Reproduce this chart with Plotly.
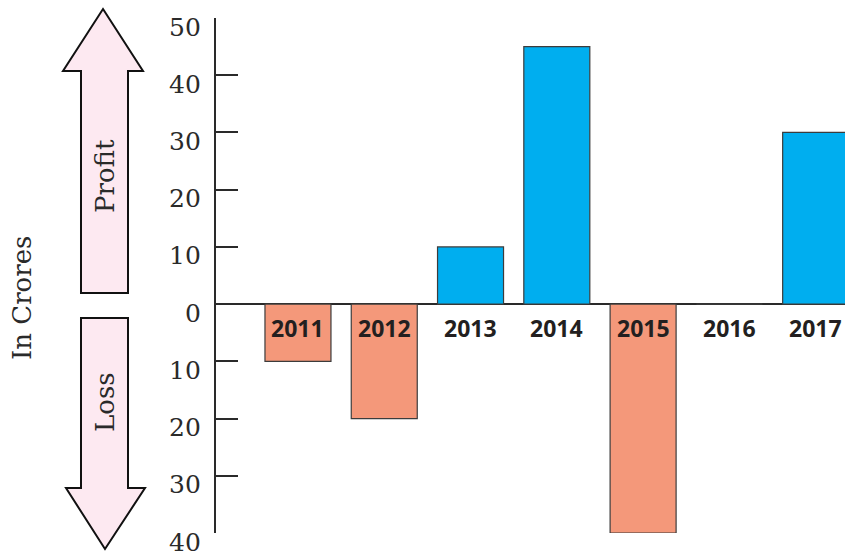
import plotly.graph_objects as go

# Company profit / loss by year (in crores)
years = ["2011", "2012", "2013", "2014", "2015", "2016", "2017"]
values = [-10, -20, 10, 45, -40, 0, 30]
tick_values = [-40, -30, -20, -10, 0, 10, 20, 30, 40, 50]
tick_labels = [str(abs(v)) for v in tick_values]

PROFIT_COLOR = "#00AEEF"
LOSS_COLOR = "#F4987A"
INK = "#231F20"
ARROW_FILL = "#FDE9F1"

W, H = 845, 551
ML, MR, MT, MB = 216, 0, 18, 18

bar_colors = [PROFIT_COLOR if v >= 0 else LOSS_COLOR for v in values]

fig = go.Figure(
    go.Bar(
        x=list(range(len(years))),
        y=values,
        marker=dict(color=bar_colors, line=dict(color="#3C3C3C", width=1.2)),
        width=0.765,
        hoverinfo="x+y",
    )
)

# Year labels sit just under the zero line
for i, yr in enumerate(years):
    fig.add_annotation(
        x=i, y=0, xref="x", yref="y", text=f"<b>{yr}</b>", showarrow=False,
        yanchor="middle", yshift=-24,
        font=dict(family="Open Sans", size=23, color=INK),
    )

serif = dict(family="DejaVu Serif", color="#2A2A2A")

# Axis numbers (magnitudes only), set slightly below each tick
for v, lab in zip(tick_values, tick_labels):
    fig.add_annotation(
        x=0, y=v, xref="paper", yref="y", text=lab, showarrow=False,
        xanchor="right", yanchor="middle", xshift=-13, yshift=-9,
        font=dict(size=25, **serif),
    )


def px_to_paper(px, py):
    """Convert page pixels to paper coordinates of the plot area."""
    pw = W - ML - MR
    ph = H - MT - MB
    return (px - ML) / pw, (H - MB - py) / ph


def arrow_path(points):
    pts = [px_to_paper(x, y) for x, y in points]
    return "M " + " L ".join(f"{x:.5f},{y:.5f}" for x, y in pts) + " Z"


profit_arrow = [(103, 9), (143, 71), (128, 71), (128, 293), (81, 293), (81, 71), (63, 71)]
loss_arrow = [(81, 318), (128, 318), (128, 488), (145, 488), (105, 549), (66, 488), (81, 488)]

for pts in (profit_arrow, loss_arrow):
    fig.add_shape(
        type="path", path=arrow_path(pts), xref="paper", yref="paper",
        fillcolor=ARROW_FILL, line=dict(color="#111111", width=2), layer="above",
    )

for label, (px, py), size in [("Profit", (105, 176), 26), ("Loss", (105, 402), 26),
                               ("In Crores", (22, 298), 26)]:
    x, y = px_to_paper(px, py)
    fig.add_annotation(
        x=x, y=y, xref="paper", yref="paper", text=label, showarrow=False,
        textangle=-90, xanchor="center", yanchor="middle",
        font=dict(size=size, **serif),
    )

fig.update_layout(
    width=W, height=H,
    margin=dict(l=ML, r=MR, t=MT, b=MB, pad=0),
    paper_bgcolor="white", plot_bgcolor="white",
    showlegend=False,
    bargap=0.23,
    xaxis=dict(
        range=[-0.95, 6.34], showgrid=False, zeroline=False,
        showticklabels=False, ticks="", showline=False, fixedrange=True,
    ),
    yaxis=dict(
        range=[-40, 50], tickvals=tick_values, showticklabels=False,
        showgrid=False, zeroline=True, zerolinecolor="#2A2A2A", zerolinewidth=2,
        showline=True, linecolor="#2A2A2A", linewidth=2,
        ticks="inside", ticklen=22, tickwidth=2, tickcolor="#2A2A2A",
        fixedrange=True,
    ),
)

fig.write_html("out.html")
